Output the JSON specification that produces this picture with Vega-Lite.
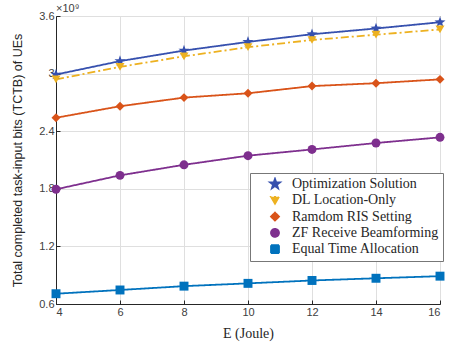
{
  "$schema": "https://vega.github.io/schema/vega-lite/v6.json",
  "autosize": {"type": "none"},
  "width": 384,
  "height": 288,
  "padding": {"left": 56, "top": 16, "right": 12, "bottom": 43},
  "background": "white",
  "title": {"text": "×10⁹", "anchor": "start", "frame": "group", "offset": -4, "font": "Liberation Sans", "fontSize": 11, "fontWeight": "normal", "color": "#404040"},
  "config": {
    "view": {"stroke": "#262626", "strokeWidth": 1},
    "axis": {"labelFont": "Liberation Sans", "labelFontSize": 11, "labelColor": "#404040", "domainColor": "#262626", "tickColor": "#262626", "gridColor": "#dfdfdf", "gridOpacity": 1, "tickSize": -4, "labelPadding": 6},
    "legend": {"symbolSize": 64, "labelFont": "Liberation Serif", "labelFontSize": 14, "labelColor": "#262626", "strokeColor": "#777777", "fillColor": "white", "padding": 4, "rowPadding": 2.3, "clipHeight": 14, "symbolOffset": 14, "labelOffset": 10, "symbolStrokeWidth": 1.8, "orient": "none", "legendX": 194, "legendY": 157, "cornerRadius": 0}
  },
  "data": {"values": [
    {"E": 4, "s": "Optimization Solution", "v": 2.99},
    {"E": 6, "s": "Optimization Solution", "v": 3.13},
    {"E": 8, "s": "Optimization Solution", "v": 3.24},
    {"E": 10, "s": "Optimization Solution", "v": 3.33},
    {"E": 12, "s": "Optimization Solution", "v": 3.41},
    {"E": 14, "s": "Optimization Solution", "v": 3.47},
    {"E": 16, "s": "Optimization Solution", "v": 3.535},
    {"E": 4, "s": "DL Location-Only", "v": 2.94},
    {"E": 6, "s": "DL Location-Only", "v": 3.07},
    {"E": 8, "s": "DL Location-Only", "v": 3.18},
    {"E": 10, "s": "DL Location-Only", "v": 3.275},
    {"E": 12, "s": "DL Location-Only", "v": 3.35},
    {"E": 14, "s": "DL Location-Only", "v": 3.405},
    {"E": 16, "s": "DL Location-Only", "v": 3.46},
    {"E": 4, "s": "Ramdom RIS Setting", "v": 2.54},
    {"E": 6, "s": "Ramdom RIS Setting", "v": 2.66},
    {"E": 8, "s": "Ramdom RIS Setting", "v": 2.75},
    {"E": 10, "s": "Ramdom RIS Setting", "v": 2.795},
    {"E": 12, "s": "Ramdom RIS Setting", "v": 2.87},
    {"E": 14, "s": "Ramdom RIS Setting", "v": 2.9},
    {"E": 16, "s": "Ramdom RIS Setting", "v": 2.94},
    {"E": 4, "s": "ZF Receive Beamforming", "v": 1.795},
    {"E": 6, "s": "ZF Receive Beamforming", "v": 1.94},
    {"E": 8, "s": "ZF Receive Beamforming", "v": 2.05},
    {"E": 10, "s": "ZF Receive Beamforming", "v": 2.145},
    {"E": 12, "s": "ZF Receive Beamforming", "v": 2.21},
    {"E": 14, "s": "ZF Receive Beamforming", "v": 2.277},
    {"E": 16, "s": "ZF Receive Beamforming", "v": 2.336},
    {"E": 4, "s": "Equal Time Allocation", "v": 0.707},
    {"E": 6, "s": "Equal Time Allocation", "v": 0.746},
    {"E": 8, "s": "Equal Time Allocation", "v": 0.786},
    {"E": 10, "s": "Equal Time Allocation", "v": 0.815},
    {"E": 12, "s": "Equal Time Allocation", "v": 0.845},
    {"E": 14, "s": "Equal Time Allocation", "v": 0.868},
    {"E": 16, "s": "Equal Time Allocation", "v": 0.89}
  ]},
  "encoding": {
    "x": {"field": "E", "type": "quantitative", "scale": {"domain": [4, 16], "nice": false},
      "axis": {"values": [4, 6, 8, 10, 12, 14, 16], "title": "E (Joule)", "titleFont": "Liberation Serif", "titleFontSize": 14, "titleFontWeight": "normal", "titleColor": "#262626", "titlePadding": 9}},
    "y": {"field": "v", "type": "quantitative", "scale": {"domain": [0.6, 3.6], "nice": false, "zero": false},
      "axis": {"values": [0.6, 1.2, 1.8, 2.4, 3, 3.6], "format": ".1~f", "title": "Total completed task-input bits (TCTB) of UEs", "titleFont": "Liberation Sans", "titleFontSize": 12.5, "titleFontWeight": "normal", "titleColor": "#262626", "titlePadding": 14}}
  },
  "layer": [
    {
      "mark": {"type": "line", "strokeWidth": 1.8},
      "encoding": {
        "color": {"field": "s", "type": "nominal",
          "scale": {"domain": ["Optimization Solution", "DL Location-Only", "Ramdom RIS Setting", "ZF Receive Beamforming", "Equal Time Allocation"],
                    "range": ["#3650AE", "#EDB120", "#D95319", "#7E2F8E", "#0072BD"]},
          "legend": {"title": null}},
        "strokeDash": {"field": "s", "type": "nominal", "legend": null,
          "scale": {"domain": ["Optimization Solution", "DL Location-Only", "Ramdom RIS Setting", "ZF Receive Beamforming", "Equal Time Allocation"],
                    "range": [[1, 0], [8, 3, 2, 3], [1, 0], [1, 0], [1, 0]]}}
      }
    },
    {
      "mark": {"type": "point", "filled": true, "opacity": 1, "size": 80},
      "encoding": {
        "color": {"field": "s", "type": "nominal", "legend": null},
        "shape": {"field": "s", "type": "nominal", "legend": null,
          "scale": {"domain": ["Optimization Solution", "DL Location-Only", "Ramdom RIS Setting", "ZF Receive Beamforming", "Equal Time Allocation"],
                    "range": ["M0,-1.3L0.306,-0.421L1.236,-0.402L0.494,0.161L0.764,1.052L0,0.52L-0.764,1.052L-0.494,0.161L-1.236,-0.402L-0.306,-0.421Z", "triangle-down", "diamond", "circle", "square"]}}
      }
    }
  ]
}
